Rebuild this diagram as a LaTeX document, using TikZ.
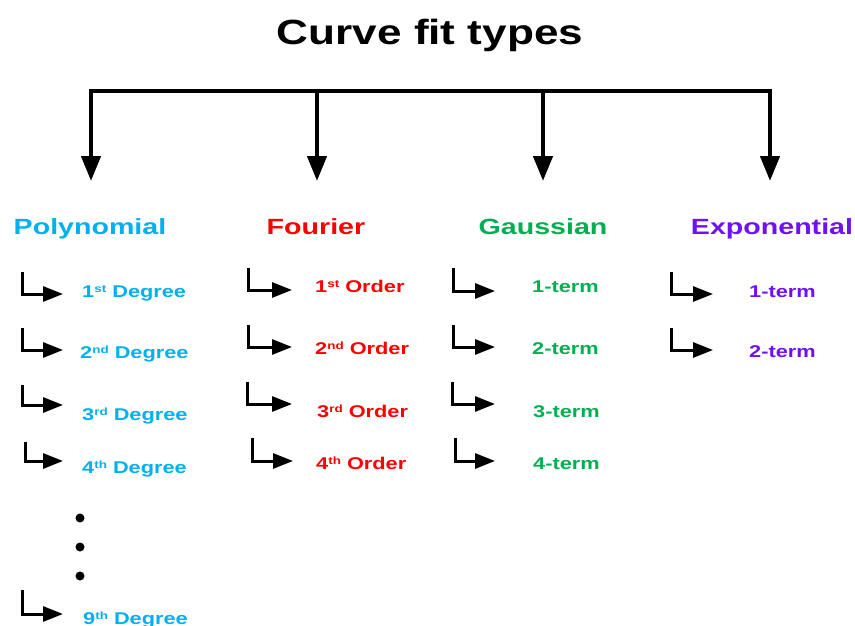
\documentclass[tikz,border=0pt]{standalone}
\usepackage{fontspec}
\usepackage{graphicx}
\setmainfont{Liberation Sans}
\usetikzlibrary{arrows.meta}
\definecolor{cpoly}{RGB}{0,176,240}
\definecolor{cfour}{RGB}{255,0,0}
\definecolor{cgaus}{RGB}{0,176,80}
\definecolor{cexpo}{RGB}{112,16,245}
\newcommand{\hstretch}[2]{\scalebox{#1}[1]{#2}}
\newcommand{\ordsfx}[1]{\raisebox{5pt}{\fontsize{10.5}{11}\selectfont #1}}
% \larrow{name}{x}{ytop}{ycorner}{xtip}
\newcommand{\larrow}[5]{%
  \coordinate (#1-t) at (#2,#3);
  \coordinate (#1-c) at (#2,#4);
  \coordinate (#1-e) at (#5,#4);
  \draw[subarrow] (#1-t) -- (#1-c) -- (#1-e);}
\tikzset{
  titletext/.style={anchor=base, inner sep=0pt, font=\bfseries\fontsize{35}{40}\selectfont},
  cattext/.style={anchor=base, inner sep=0pt, font=\bfseries\fontsize{22}{26}\selectfont},
  subtext/.style={anchor=base west, inner sep=0pt, font=\bfseries\fontsize{17}{20}\selectfont},
  mainarrow/.style={line width=4.5pt, line join=miter, -{Triangle[length=25pt,width=19pt]}},
  barline/.style={line width=4.5pt, line join=miter, {Triangle[length=25pt,width=19pt]}-{Triangle[length=25pt,width=19pt]}},
  subarrow/.style={line width=3pt, line join=miter, -{Triangle[length=20pt,width=15pt]}},
  dotmark/.style={circle, fill=black, inner sep=0pt, minimum size=9pt}
}
\begin{document}
\begin{tikzpicture}[x=1pt,y=-1pt]
\useasboundingbox (0,0) rectangle (855,626);

% title
\node[titletext] (title) at (430,45) {\hstretch{1.26}{Curve fit types}};

% top bar
\coordinate (b1) at (91,91);
\coordinate (b2) at (317,91);
\coordinate (b3) at (543,91);
\coordinate (b4) at (770,91);
\coordinate (e1) at (91,181);
\coordinate (e2) at (317,181);
\coordinate (e3) at (543,181);
\coordinate (e4) at (770,181);
\draw[barline] (e1) -- (b1) -- (b4) -- (e4);
\draw[mainarrow] (b2) -- (e2);
\draw[mainarrow] (b3) -- (e3);

% categories
\node[cattext, text=cpoly] (poly) at (90,234) {\hstretch{1.3}{Polynomial}};
\node[cattext, text=cfour] (four) at (316,234) {\hstretch{1.3}{Fourier}};
\node[cattext, text=cgaus] (gaus) at (543,234) {\hstretch{1.3}{Gaussian}};
\node[cattext, text=cexpo] (expo) at (772,234) {\hstretch{1.3}{Exponential}};

% Polynomial items
\larrow{pa1}{22}{272}{294}{63}
\larrow{pa2}{22}{328}{350}{63}
\larrow{pa3}{22}{385}{405}{63}
\larrow{pa4}{25}{442}{461}{63}
\larrow{pa9}{22}{590}{614}{63}
\node[subtext, text=cpoly] (p1) at (82,297) {\hstretch{1.28}{1\ordsfx{st} Degree}};
\node[subtext, text=cpoly] (p2) at (80,358) {\hstretch{1.28}{2\ordsfx{nd} Degree}};
\node[subtext, text=cpoly] (p3) at (82,420) {\hstretch{1.28}{3\ordsfx{rd} Degree}};
\node[subtext, text=cpoly] (p4) at (82,473) {\hstretch{1.28}{4\ordsfx{th} Degree}};
\node[subtext, text=cpoly] (p9) at (83,624) {\hstretch{1.28}{9\ordsfx{th} Degree}};
\node[dotmark] (d1) at (80,518) {};
\node[dotmark] (d2) at (80,547) {};
\node[dotmark] (d3) at (80,576) {};

% Fourier items
\larrow{fa1}{248}{268}{290}{292}
\larrow{fa2}{248}{325}{347}{292}
\larrow{fa3}{247}{382}{404}{292}
\larrow{fa4}{252}{438}{461}{293}
\node[subtext, text=cfour] (f1) at (315,292) {\hstretch{1.28}{1\ordsfx{st} Order}};
\node[subtext, text=cfour] (f2) at (315,354) {\hstretch{1.28}{2\ordsfx{nd} Order}};
\node[subtext, text=cfour] (f3) at (317,417) {\hstretch{1.28}{3\ordsfx{rd} Order}};
\node[subtext, text=cfour] (f4) at (316,469) {\hstretch{1.28}{4\ordsfx{th} Order}};

% Gaussian items
\larrow{ga1}{453}{268}{291}{495}
\larrow{ga2}{453}{325}{347}{495}
\larrow{ga3}{452}{382}{404}{495}
\larrow{ga4}{455}{438}{461}{495}
\node[subtext, text=cgaus] (g1) at (532,292) {\hstretch{1.28}{1-term}};
\node[subtext, text=cgaus] (g2) at (532,354) {\hstretch{1.28}{2-term}};
\node[subtext, text=cgaus] (g3) at (533,417) {\hstretch{1.28}{3-term}};
\node[subtext, text=cgaus] (g4) at (533,469) {\hstretch{1.28}{4-term}};

% Exponential items
\larrow{ea1}{671}{272}{294}{713}
\larrow{ea2}{671}{328}{350}{713}
\node[subtext, text=cexpo] (x1) at (749,297) {\hstretch{1.28}{1-term}};
\node[subtext, text=cexpo] (x2) at (749,357) {\hstretch{1.28}{2-term}};
\end{tikzpicture}
\end{document}
